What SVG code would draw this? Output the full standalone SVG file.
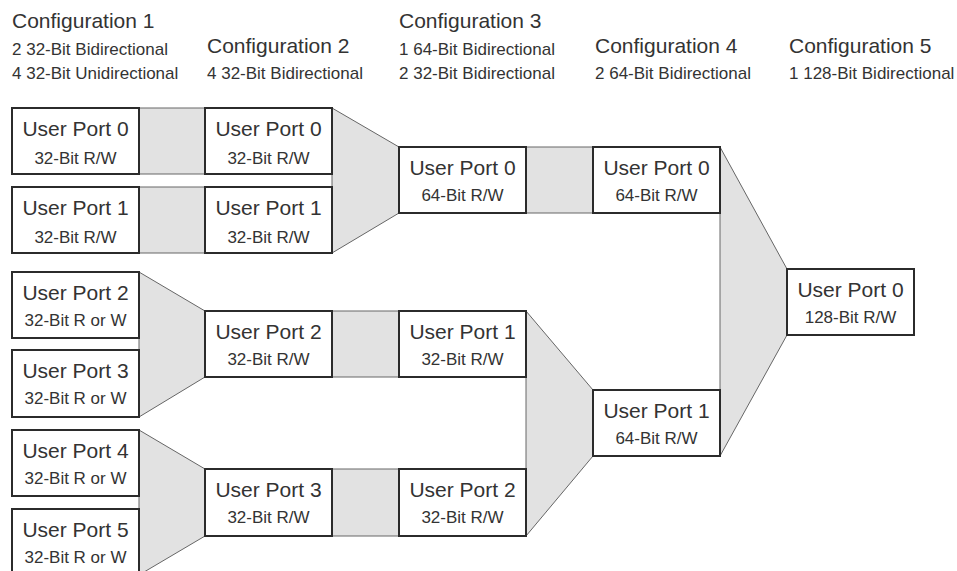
<svg xmlns="http://www.w3.org/2000/svg" width="957" height="571" viewBox="0 0 957 571">
<style>
.hdr{font-family:"Liberation Sans",Arial,sans-serif;font-size:21px;fill:#333}
.sub{font-family:"Liberation Sans",Arial,sans-serif;font-size:17px;fill:#333}
.box{fill:#fff;stroke:#2b2b2b;stroke-width:2}
.t1{font-family:"Liberation Sans",Arial,sans-serif;font-size:21px;fill:#333;text-anchor:middle}
.t2{font-family:"Liberation Sans",Arial,sans-serif;font-size:17px;fill:#333;text-anchor:middle}
.band{fill:#e2e2e2;stroke:#666;stroke-width:1}
</style>
<rect width="957" height="571" fill="#fff"/>
<g id="headers">
<text class="hdr" x="12" y="28">Configuration 1</text>
<text class="sub" x="12" y="55">2 32-Bit Bidirectional</text>
<text class="sub" x="12" y="79">4 32-Bit Unidirectional</text>
<text class="hdr" x="207" y="53">Configuration 2</text>
<text class="sub" x="207" y="79">4 32-Bit Bidirectional</text>
<text class="hdr" x="399" y="28">Configuration 3</text>
<text class="sub" x="399" y="55">1 64-Bit Bidirectional</text>
<text class="sub" x="399" y="79">2 32-Bit Bidirectional</text>
<text class="hdr" x="595" y="53">Configuration 4</text>
<text class="sub" x="595" y="79">2 64-Bit Bidirectional</text>
<text class="hdr" x="789" y="53">Configuration 5</text>
<text class="sub" x="789" y="79">1 128-Bit Bidirectional</text>
</g>
<g id="connectors">
<polygon class="band" points="139,108 205,108 205,174 139,174"/>
<polygon class="band" points="139,187 205,187 205,253 139,253"/>
<polygon class="band" points="332,108 399,147 399,213 332,253"/>
<polygon class="band" points="526,147 593,147 593,213 526,213"/>
<polygon class="band" points="720,147 787,269 787,335 720,456"/>
<polygon class="band" points="139,272 205,311 205,377 139,417"/>
<polygon class="band" points="332,311 399,311 399,377 332,377"/>
<polygon class="band" points="526,311 593,390 593,456 526,536"/>
<polygon class="band" points="139,430 205,469 205,536 139,575"/>
<polygon class="band" points="332,469 399,469 399,536 332,536"/>
</g>
<g id="c1-up0"><rect class="box" x="12" y="108" width="127" height="66"/><text class="t1" x="75.5" y="136">User Port 0</text><text class="t2" x="75.5" y="164">32-Bit R/W</text></g>
<g id="c1-up1"><rect class="box" x="12" y="187" width="127" height="66"/><text class="t1" x="75.5" y="215">User Port 1</text><text class="t2" x="75.5" y="243">32-Bit R/W</text></g>
<g id="c1-up2"><rect class="box" x="12" y="272" width="127" height="66"/><text class="t1" x="75.5" y="300">User Port 2</text><text class="t2" x="75.5" y="326">32-Bit R or W</text></g>
<g id="c1-up3"><rect class="box" x="12" y="350" width="127" height="67"/><text class="t1" x="75.5" y="378">User Port 3</text><text class="t2" x="75.5" y="404">32-Bit R or W</text></g>
<g id="c1-up4"><rect class="box" x="12" y="430" width="127" height="66"/><text class="t1" x="75.5" y="458">User Port 4</text><text class="t2" x="75.5" y="484">32-Bit R or W</text></g>
<g id="c1-up5"><rect class="box" x="12" y="509" width="127" height="66"/><text class="t1" x="75.5" y="537">User Port 5</text><text class="t2" x="75.5" y="563">32-Bit R or W</text></g>
<g id="c2-up0"><rect class="box" x="205" y="108" width="127" height="66"/><text class="t1" x="268.5" y="136">User Port 0</text><text class="t2" x="268.5" y="164">32-Bit R/W</text></g>
<g id="c2-up1"><rect class="box" x="205" y="187" width="127" height="66"/><text class="t1" x="268.5" y="215">User Port 1</text><text class="t2" x="268.5" y="243">32-Bit R/W</text></g>
<g id="c2-up2"><rect class="box" x="205" y="311" width="127" height="66"/><text class="t1" x="268.5" y="339">User Port 2</text><text class="t2" x="268.5" y="365">32-Bit R/W</text></g>
<g id="c2-up3"><rect class="box" x="205" y="469" width="127" height="67"/><text class="t1" x="268.5" y="497">User Port 3</text><text class="t2" x="268.5" y="523">32-Bit R/W</text></g>
<g id="c3-up0"><rect class="box" x="399" y="147" width="127" height="66"/><text class="t1" x="462.5" y="175">User Port 0</text><text class="t2" x="462.5" y="201">64-Bit R/W</text></g>
<g id="c3-up1"><rect class="box" x="399" y="311" width="127" height="66"/><text class="t1" x="462.5" y="339">User Port 1</text><text class="t2" x="462.5" y="365">32-Bit R/W</text></g>
<g id="c3-up2"><rect class="box" x="399" y="469" width="127" height="67"/><text class="t1" x="462.5" y="497">User Port 2</text><text class="t2" x="462.5" y="523">32-Bit R/W</text></g>
<g id="c4-up0"><rect class="box" x="593" y="147" width="127" height="66"/><text class="t1" x="656.5" y="175">User Port 0</text><text class="t2" x="656.5" y="201">64-Bit R/W</text></g>
<g id="c4-up1"><rect class="box" x="593" y="390" width="127" height="66"/><text class="t1" x="656.5" y="418">User Port 1</text><text class="t2" x="656.5" y="444">64-Bit R/W</text></g>
<g id="c5-up0"><rect class="box" x="787" y="269" width="127" height="66"/><text class="t1" x="850.5" y="297">User Port 0</text><text class="t2" x="850.5" y="323">128-Bit R/W</text></g>
</svg>
